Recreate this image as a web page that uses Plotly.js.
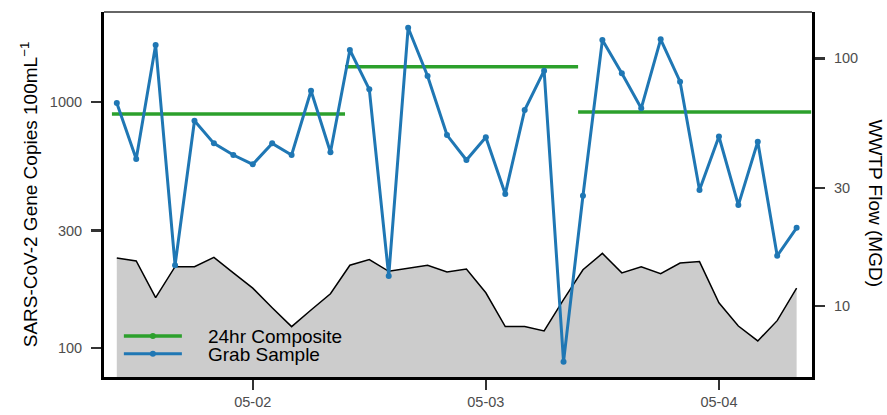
<!DOCTYPE html>
<html>
<head>
<meta charset="utf-8">
<script src="https://cdn.plot.ly/plotly-3.0.1.min.js"></script>
<style>html,body{margin:0;padding:0;background:#fff;}#chart{width:887px;height:415px;}</style>
</head>
<body>
<div id="chart"></div>
<script>
// Sample times (every 2 hours)
const sampleTimes = [
  '2020-05-01 10:00','2020-05-01 12:00','2020-05-01 14:00','2020-05-01 16:00','2020-05-01 18:00','2020-05-01 20:00','2020-05-01 22:00',
  '2020-05-02 00:00','2020-05-02 02:00','2020-05-02 04:00','2020-05-02 06:00','2020-05-02 08:00','2020-05-02 10:00',
  '2020-05-02 12:00','2020-05-02 14:00','2020-05-02 16:00','2020-05-02 18:00','2020-05-02 20:00','2020-05-02 22:00',
  '2020-05-03 00:00','2020-05-03 02:00','2020-05-03 04:00','2020-05-03 06:00','2020-05-03 08:00','2020-05-03 10:00',
  '2020-05-03 12:00','2020-05-03 14:00','2020-05-03 16:00','2020-05-03 18:00','2020-05-03 20:00','2020-05-03 22:00',
  '2020-05-04 00:00','2020-05-04 02:00','2020-05-04 04:00','2020-05-04 06:00','2020-05-04 08:00'
];
// Grab sample gene copies per 100 mL
const grabValues = [990, 587, 1705, 217, 839, 679, 609, 558, 679, 609, 1111, 625, 1627, 1126, 196, 2005, 1276, 734,
  581, 719, 423, 928, 1341, 88, 416, 1786, 1308, 943, 1798, 1209, 439, 724, 381, 690, 237, 308];
// WWTP flow (MGD)
const flowValues = [15.6, 15.2, 10.8, 14.4, 14.4, 15.7, 13.6, 11.8, 9.84, 8.25, 9.63, 11.2, 14.6, 15.4, 13.8, 14.2, 14.6, 13.7,
  14.1, 11.3, 8.25, 8.25, 7.93, 10.6, 14.0, 16.3, 13.6, 14.4, 13.5, 14.9, 15.1, 10.3, 8.30, 7.22, 8.72, 11.8];
// 24hr composite segments
const compStarts = ['2020-05-01 09:30', '2020-05-02 09:30', '2020-05-03 09:30'];
const compEnds = ['2020-05-02 09:30', '2020-05-03 09:30', '2020-05-04 09:30'];
const compValues = [894, 1392, 911];
// Axis ticks
const xTickVals = ['2020-05-02', '2020-05-03', '2020-05-04'];
const xTickText = ['05-02', '05-03', '05-04'];
const leftTicks = [100, 300, 1000];
const rightTicks = [10, 30, 100];

const compX = [], compY = [];
compStarts.forEach((s, i) => {
  compX.push(s, compEnds[i], null);
  compY.push(compValues[i], compValues[i], null);
});

const pad = '\u00a0\u00a0\u00a0\u00a0';
const traces = [
  {
    x: sampleTimes, y: flowValues, type: 'scatter', mode: 'lines',
    fill: 'tozeroy', fillcolor: '#cccccc',
    line: {color: '#000000', width: 1.5},
    yaxis: 'y', showlegend: false, name: 'Flow'
  },
  {
    x: compX, y: compY, type: 'scatter', mode: 'lines',
    line: {color: '#2ca02c', width: 3.5},
    yaxis: 'y2', name: '24hr Composite', connectgaps: false, showlegend: false
  },
  {
    // legend entry for the composite (line with marker)
    x: [null], y: [null], type: 'scatter', mode: 'lines+markers',
    line: {color: '#2ca02c', width: 3.5}, marker: {color: '#2ca02c', size: 6},
    yaxis: 'y2', name: pad + '24hr Composite', legend: 'legend'
  },
  {
    x: sampleTimes, y: grabValues, type: 'scatter', mode: 'lines+markers',
    line: {color: '#1f77b4', width: 3}, marker: {color: '#1f77b4', size: 6},
    yaxis: 'y2', name: pad + 'Grab Sample', legend: 'legend2'
  }
];

const tickFont = {family: 'Liberation Sans, Arial, sans-serif', size: 14.5, color: '#4d4d4d'};
const legBase = {
  xanchor: 'left', yanchor: 'middle',
  bgcolor: 'rgba(0,0,0,0)', font: {size: 19, color: '#000'},
  itemwidth: 58, tracegroupgap: 0
};
const layout = {
  width: 887, height: 415,
  margin: {l: 104, r: 75, t: 12, b: 38},
  paper_bgcolor: '#ffffff', plot_bgcolor: '#ffffff',
  font: {family: 'Liberation Sans, Arial, sans-serif', color: '#000'},
  xaxis: {
    type: 'date', range: ['2020-05-01 08:41', '2020-05-04 09:35'],
    tickvals: xTickVals, ticktext: xTickText,
    ticks: 'outside', ticklen: 10, tickwidth: 2.5, tickcolor: '#333',
    showline: true, linewidth: 3, linecolor: '#000', showgrid: false, zeroline: false,
    tickfont: tickFont
  },
  yaxis: {
    type: 'log', range: [0.713, 2.187], side: 'right',
    tickvals: rightTicks, ticktext: rightTicks.map(String),
    ticks: 'outside', ticklen: 10, tickwidth: 2.5, tickcolor: '#333',
    showline: true, linewidth: 3, linecolor: '#000', showgrid: false, zeroline: false,
    tickfont: tickFont, ticklabelstandoff: 6
  },
  yaxis2: {
    type: 'log', range: [1.882, 3.366], side: 'left', overlaying: 'y',
    tickvals: leftTicks, ticktext: leftTicks.map(String),
    ticks: 'outside', ticklen: 10, tickwidth: 2.5, tickcolor: '#333',
    showline: true, linewidth: 3, linecolor: '#000', showgrid: false, zeroline: false,
    tickfont: tickFont, ticklabelstandoff: 6,
    title: {text: 'SARS-CoV-2 Gene Copies 100mL<sup>−1</sup>', font: {size: 19, color: '#000'}, standoff: 8}
  },
  legend: Object.assign({}, legBase, {x: 0.021, y: 0.112}),
  legend2: Object.assign({}, legBase, {x: 0.021, y: 0.063}),
  shapes: [
    {type: 'line', xref: 'paper', yref: 'paper', x0: 0, x1: 1, y0: 1, y1: 1, line: {color: '#333', width: 1.5}}
  ],
  annotations: [
    {text: 'WWTP Flow (MGD)', xref: 'paper', yref: 'paper', x: 1.089, y: 0.478,
     xanchor: 'center', yanchor: 'middle', textangle: 90, showarrow: false,
     font: {size: 19, color: '#000'}}
  ]
};

Plotly.newPlot('chart', traces, layout, {displayModeBar: false, staticPlot: true});
</script>
</body>
</html>
